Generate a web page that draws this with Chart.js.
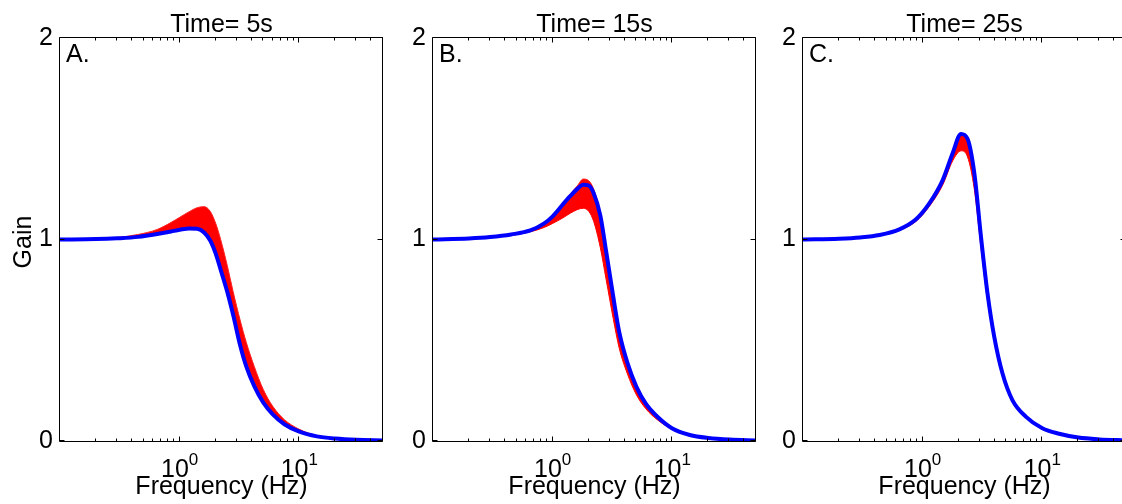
<!DOCTYPE html>
<html><head><meta charset="utf-8">
<script src="https://cdn.jsdelivr.net/npm/chart.js@4.4.1/dist/chart.umd.min.js"></script>
<style>
html,body{margin:0;padding:0;background:#fff;width:1122px;height:504px;overflow:hidden;position:relative;}
.p{position:absolute;top:0;width:393px;height:504px;}
canvas{display:block;}
</style></head><body>
<div class="p" style="left:0px"><canvas id="c0" width="393" height="504"></canvas></div>
<div class="p" style="left:373px"><canvas id="c1" width="393" height="504"></canvas></div>
<div class="p" style="left:743px"><canvas id="c2" width="393" height="504"></canvas></div>
<script>
// ---------- data ----------
const titles = ['Time= 5s', 'Time= 15s', 'Time= 25s'];
const panelLetters = ['A.', 'B.', 'C.'];
const yTickValues = [0, 1, 2];
const xMajorTicks = [1, 10];
const xMinorTicks = [0.2,0.3,0.4,0.5,0.6,0.7,0.8,0.9,2,3,4,5,6,7,8,9,20,30,40,50];
const xLabel = 'Frequency (Hz)';
const yLabel = 'Gain';

const freqA  = [0.1,0.2,0.3,0.45,0.65,0.85,1.0,1.2,1.4,1.6,1.8,2.0,2.2,2.5,2.8,3.2,3.6,4.2,5.0,6.0,7.5,10,14,20,30,50];
const blueA  = [1.000,1.002,1.006,1.013,1.027,1.040,1.048,1.055,1.053,1.035,0.995,0.930,0.850,0.740,0.625,0.475,0.370,0.272,0.190,0.132,0.083,0.046,0.023,0.012,0.006,0.003];
const redHiA = [1.000,1.004,1.010,1.025,1.050,1.085,1.110,1.138,1.158,1.163,1.140,1.080,1.000,0.870,0.740,0.600,0.490,0.370,0.255,0.172,0.106,0.058,0.027,0.014,0.006,0.003];
const redLoA = [1.000,1.002,1.006,1.013,1.028,1.042,1.050,1.058,1.058,1.042,1.005,0.945,0.865,0.755,0.640,0.490,0.382,0.282,0.197,0.137,0.087,0.048,0.024,0.012,0.006,0.003];

const freqB  = [0.1,0.2,0.3,0.45,0.65,0.85,1.0,1.2,1.4,1.6,1.8,2.0,2.2,2.5,2.8,3.2,3.6,4.2,5.0,6.0,7.5,10,14,20,30,50];
const blueB  = [1.000,1.005,1.012,1.025,1.045,1.080,1.115,1.170,1.215,1.250,1.272,1.268,1.230,1.120,0.940,0.720,0.540,0.390,0.270,0.185,0.120,0.062,0.030,0.015,0.007,0.003];
const redHiB = [1.000,1.005,1.012,1.026,1.047,1.083,1.118,1.175,1.225,1.265,1.300,1.292,1.250,1.130,0.945,0.725,0.545,0.392,0.272,0.186,0.121,0.063,0.030,0.015,0.007,0.003];
const redLoB = [1.000,1.004,1.010,1.020,1.038,1.060,1.080,1.105,1.130,1.148,1.155,1.140,1.090,0.960,0.800,0.610,0.460,0.335,0.230,0.160,0.105,0.058,0.028,0.014,0.006,0.003];

const freqC  = [0.1,0.2,0.3,0.436,0.639,0.88,1.14,1.47,1.78,2.09,2.37,2.70,3.07,3.48,3.96,4.64,5.62,7.27,10,13.8,20,30,50];
const blueC  = [1.000,1.004,1.010,1.022,1.050,1.100,1.180,1.295,1.428,1.524,1.500,1.330,1.014,0.733,0.518,0.336,0.203,0.121,0.063,0.036,0.017,0.008,0.003];
const redHiC = [1.000,1.004,1.010,1.022,1.050,1.100,1.180,1.295,1.428,1.520,1.495,1.325,1.010,0.730,0.516,0.335,0.202,0.120,0.063,0.036,0.017,0.008,0.003];
const redLoC = [1.000,1.003,1.008,1.020,1.045,1.090,1.165,1.270,1.390,1.440,1.410,1.250,0.960,0.700,0.500,0.325,0.197,0.118,0.062,0.035,0.017,0.008,0.003];

const panels = [
  {freq: freqA, blue: blueA, hi: redHiA, lo: redLoA, mode: 'monotone'},
  {freq: freqB, blue: blueB, hi: redHiB, lo: redLoB, mode: 'monotone'},
  {freq: freqC, blue: blueC, hi: redHiC, lo: redLoC, mode: 'monotone'}
];

// ---------- drawing ----------
const FONT = '"Liberation Sans", Arial, Helvetica, sans-serif';
const FS = 25;
const pts = (xs, ys) => xs.map((x, i) => ({x: x, y: ys[i]}));

function decorPlugin(idx) {
  return {
    id: 'decor' + idx,
    afterDraw(chart) {
      const ctx = chart.ctx;
      const a = chart.chartArea;
      const xs = chart.scales.x, ys = chart.scales.y;
      ctx.save();
      ctx.strokeStyle = '#000';
      ctx.lineWidth = 1;
      const L = Math.round(a.left) - 0.5, R = Math.round(a.right) - 0.5;
      const T = Math.round(a.top) - 0.5, B = Math.round(a.bottom) + 0.5;
      ctx.beginPath();
      ctx.rect(L, T, R - L, B - T);
      ctx.stroke();
      const tick = (v, len) => {
        const px = Math.round(xs.getPixelForValue(v)) - 0.5;
        ctx.beginPath();
        ctx.moveTo(px, B); ctx.lineTo(px, B - len);
        ctx.moveTo(px, T); ctx.lineTo(px, T + len);
        ctx.stroke();
      };
      xMajorTicks.forEach(v => tick(v, 5));
      xMinorTicks.forEach(v => tick(v, 3));
      yTickValues.forEach(v => {
        const py = Math.round(ys.getPixelForValue(v)) - 0.5;
        ctx.beginPath();
        ctx.moveTo(L, py); ctx.lineTo(L + 5, py);
        ctx.moveTo(R, py); ctx.lineTo(R - 5, py);
        ctx.stroke();
      });
      ctx.fillStyle = '#000';
      xMajorTicks.forEach(v => {
        const px = xs.getPixelForValue(v);
        const e = String(Math.round(Math.log10(v)));
        ctx.font = FS + 'px ' + FONT;
        const w1 = ctx.measureText('10').width;
        ctx.font = '17px ' + FONT;
        const w2 = ctx.measureText(e).width;
        const x0 = px - (w1 + w2) / 2;
        ctx.textAlign = 'left';
        ctx.textBaseline = 'alphabetic';
        ctx.font = FS + 'px ' + FONT;
        ctx.fillText('10', x0, 477);
        ctx.font = '17px ' + FONT;
        ctx.fillText(e, x0 + w1, 465);
      });
      const cx = (a.left + a.right) / 2;
      ctx.font = FS + 'px ' + FONT;
      ctx.textAlign = 'center';
      ctx.fillText(xLabel, cx, 494);
      ctx.fillText(titles[idx], cx, 32);
      ctx.textAlign = 'left';
      ctx.fillText(panelLetters[idx], a.left + 6, 62);
      if (idx === 0) {
        ctx.save();
        ctx.translate(31, 242);
        ctx.rotate(-Math.PI / 2);
        ctx.textAlign = 'center';
        ctx.fillText(yLabel, 0, 0);
        ctx.restore();
      }
      ctx.restore();
    }
  };
}

panels.forEach((p, idx) => {
  new Chart(document.getElementById('c' + idx), {
    type: 'line',
    data: {
      datasets: [
        {data: pts(p.freq, p.blue), borderColor: '#0000ff', borderWidth: 4, pointRadius: 0, fill: false, cubicInterpolationMode: p.mode},
        {data: pts(p.freq, p.hi), borderColor: '#ff2020', borderWidth: 1, pointRadius: 0, backgroundColor: '#ff0000', fill: '+1', cubicInterpolationMode: p.mode},
        {data: pts(p.freq, p.lo), borderColor: '#ff0000', borderWidth: 1, pointRadius: 0, fill: false, cubicInterpolationMode: p.mode}
      ]
    },
    options: {
      responsive: false,
      animation: false,
      devicePixelRatio: 1,
      layout: {padding: {left: 0, right: 10, top: 38, bottom: 0}},
      plugins: {legend: {display: false}, tooltip: {enabled: false}},
      scales: {
        x: {
          type: 'logarithmic', min: 0.1, max: 50,
          grid: {display: false}, border: {display: false},
          ticks: {display: false},
          afterFit(s) { s.height = 63; }
        },
        y: {
          min: 0, max: 2,
          grid: {display: false, drawTicks: false}, border: {display: false},
          afterBuildTicks(s) { s.ticks = yTickValues.map(v => ({value: v})); },
          ticks: {color: '#000', font: {family: FONT, size: FS}, padding: 7, callback: v => String(v)},
          afterFit(s) { s.width = 60; }
        }
      }
    },
    plugins: [decorPlugin(idx)]
  });
});
</script>
</body></html>
